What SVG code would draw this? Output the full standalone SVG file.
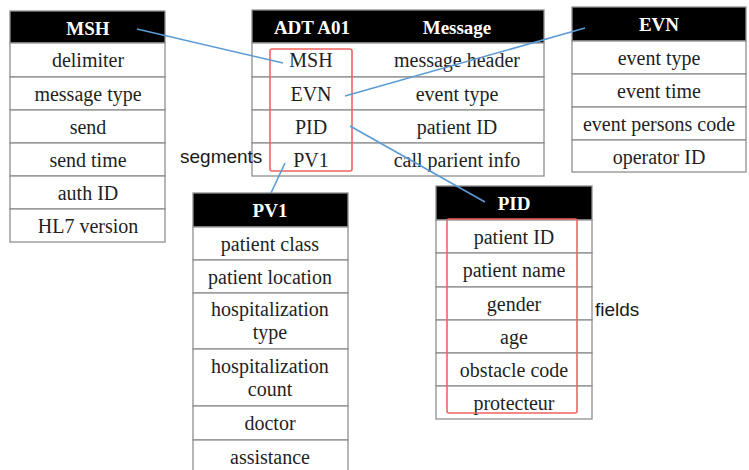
<svg xmlns="http://www.w3.org/2000/svg" width="749" height="470" viewBox="0 0 749 470">
  <style>
    .cell { fill: #ffffff; stroke: #8f8f8f; stroke-width: 1.3; }
    .head { fill: #000000; stroke: #8f8f8f; stroke-width: 1.3; }
    .ht { font-family: "Liberation Serif", "Times New Roman", serif; font-size: 19px; font-weight: bold; fill: #ffffff; text-anchor: middle; }
    .t { font-family: "Liberation Serif", "Times New Roman", serif; font-size: 20px; fill: #1f1f1f; text-anchor: middle; }
    .lbl { font-family: "Liberation Sans", Arial, sans-serif; font-size: 19px; fill: #1a1a1a; }
    .sel { fill: none; stroke: #f06464; stroke-width: 1.6; }
    .link { stroke: #5b9bd5; stroke-width: 1.6; fill: none; }
  </style>

  <!-- MSH segment fields -->
  <g id="msh">
    <rect class="head" x="10" y="11" width="155" height="32"/>
    <text class="ht" x="88" y="35">MSH</text>
    <rect class="cell" x="10" y="43" width="155" height="34"/>
    <text class="t" x="88" y="67">delimiter</text>
    <rect class="cell" x="10" y="77" width="155" height="33"/>
    <text class="t" x="88" y="101">message type</text>
    <rect class="cell" x="10" y="110" width="155" height="33"/>
    <text class="t" x="88" y="134">send</text>
    <rect class="cell" x="10" y="143" width="155" height="33"/>
    <text class="t" x="88" y="167">send time</text>
    <rect class="cell" x="10" y="176" width="155" height="33"/>
    <text class="t" x="88" y="200">auth ID</text>
    <rect class="cell" x="10" y="209" width="155" height="33"/>
    <text class="t" x="88" y="233">HL7 version</text>
  </g>

  <!-- ADT A01 message structure -->
  <g id="adt">
    <rect class="head" x="252" y="10" width="292" height="33"/>
    <text class="ht" x="312" y="34">ADT A01</text>
    <text class="ht" x="457" y="34">Message</text>
    <rect class="cell" x="252" y="43" width="292" height="34"/>
    <text class="t" x="311" y="67">MSH</text>
    <text class="t" x="457" y="67">message header</text>
    <rect class="cell" x="252" y="77" width="292" height="33"/>
    <text class="t" x="311" y="101">EVN</text>
    <text class="t" x="457" y="101">event type</text>
    <rect class="cell" x="252" y="110" width="292" height="33"/>
    <text class="t" x="311" y="134">PID</text>
    <text class="t" x="457" y="134">patient ID</text>
    <rect class="cell" x="252" y="143" width="292" height="33"/>
    <text class="t" x="311" y="167">PV1</text>
    <text class="t" x="457" y="167">call parient info</text>
    <rect class="sel" x="270" y="49" width="82" height="122" rx="2"/>
  </g>

  <!-- EVN segment fields -->
  <g id="evn">
    <rect class="head" x="572" y="7" width="174" height="34"/>
    <text class="ht" x="659" y="31">EVN</text>
    <rect class="cell" x="572" y="41" width="174" height="33"/>
    <text class="t" x="659" y="65">event type</text>
    <rect class="cell" x="572" y="74" width="174" height="33"/>
    <text class="t" x="659" y="98">event time</text>
    <rect class="cell" x="572" y="107" width="174" height="33"/>
    <text class="t" x="659" y="131">event persons code</text>
    <rect class="cell" x="572" y="140" width="174" height="32"/>
    <text class="t" x="659" y="164">operator ID</text>
  </g>

  <!-- PV1 segment fields -->
  <g id="pv1">
    <rect class="head" x="193" y="193" width="155" height="34"/>
    <text class="ht" x="270" y="217">PV1</text>
    <rect class="cell" x="193" y="227" width="155" height="33"/>
    <text class="t" x="270" y="251">patient class</text>
    <rect class="cell" x="193" y="260" width="155" height="33"/>
    <text class="t" x="270" y="284">patient location</text>
    <rect class="cell" x="193" y="293" width="155" height="56"/>
    <text class="t" x="270" y="316">hospitalization</text>
    <text class="t" x="270" y="339">type</text>
    <rect class="cell" x="193" y="349" width="155" height="57"/>
    <text class="t" x="270" y="373">hospitalization</text>
    <text class="t" x="270" y="396">count</text>
    <rect class="cell" x="193" y="406" width="155" height="34"/>
    <text class="t" x="270" y="430">doctor</text>
    <rect class="cell" x="193" y="440" width="155" height="34"/>
    <text class="t" x="270" y="464">assistance</text>
  </g>

  <!-- PID segment fields -->
  <g id="pid">
    <rect class="head" x="436" y="186" width="156" height="34"/>
    <text class="ht" x="514" y="210">PID</text>
    <rect class="cell" x="436" y="220" width="156" height="33"/>
    <text class="t" x="514" y="244">patient ID</text>
    <rect class="cell" x="436" y="253" width="156" height="34"/>
    <text class="t" x="514" y="277">patient name</text>
    <rect class="cell" x="436" y="287" width="156" height="33"/>
    <text class="t" x="514" y="311">gender</text>
    <rect class="cell" x="436" y="320" width="156" height="33"/>
    <text class="t" x="514" y="344">age</text>
    <rect class="cell" x="436" y="353" width="156" height="33"/>
    <text class="t" x="514" y="377">obstacle code</text>
    <rect class="cell" x="436" y="386" width="156" height="33"/>
    <text class="t" x="514" y="410">protecteur</text>
    <rect class="sel" x="447" y="219" width="130" height="194" rx="2"/>
  </g>

  <!-- links from message segments to their field tables -->
  <g id="connectors">
    <line class="link" x1="137" y1="29" x2="283" y2="63"/>
    <line class="link" x1="345" y1="96" x2="585" y2="28"/>
    <line class="link" x1="350" y1="126" x2="485" y2="202"/>
    <line class="link" x1="285" y1="163" x2="271" y2="193"/>
  </g>

  <!-- annotations -->
  <g id="labels">
    <text class="lbl" x="180" y="163">segments</text>
    <text class="lbl" x="595" y="316">fields</text>
  </g>
</svg>
